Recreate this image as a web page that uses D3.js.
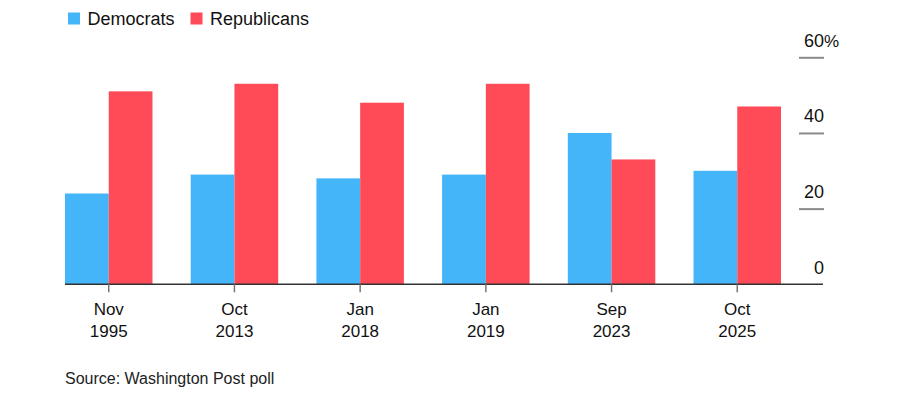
<!DOCTYPE html>
<html>
<head>
<meta charset="utf-8">
<script src="https://cdn.jsdelivr.net/npm/d3@7"></script>
<style>
  body { margin: 0; background: #fff; }
  svg { display: block; font-family: "Liberation Sans", Arial, sans-serif; }
</style>
</head>
<body>
<svg id="chart" width="900" height="403"></svg>
<script>
var months = ["Nov", "Oct", "Jan", "Jan", "Sep", "Oct"];
var years = ["1995", "2013", "2018", "2019", "2023", "2025"];
var democrats = [24, 29, 28, 29, 40, 30];
var republicans = [51, 53, 48, 53, 33, 47];
var series_names = ["Democrats", "Republicans"];
var y_ticks = [0, 20, 40, 60];

var colors = ["#45b5fa", "#ff4b58"];
var svg = d3.select("#chart");

var cats = years.map(function (y, i) { return i; });
var x = d3.scaleBand().domain(cats).range([65, 781]).paddingInner(0.304).paddingOuter(0);
var x_inner = d3.scaleBand().domain([0, 1]).range([0, x.bandwidth()]);
var y = d3.scaleLinear().domain([0, 60]).range([284.3, 57.3]);

// y axis: short lines on the right, labels sitting above them
var y_axis = d3.axisLeft(y).tickValues(y_ticks).tickSize(25).tickFormat(function (d) { return d; });
var gy = svg.append("g")
  .attr("transform", "translate(824,0)")
  .call(y_axis);
gy.select(".domain").remove();
gy.selectAll(".tick line").attr("stroke", "#8a8a8a").attr("stroke-width", 2)
  .filter(function (d) { return d == 0; }).remove();
gy.selectAll(".tick text")
  .attr("x", 0).attr("dy", 0).attr("y", -11)
  .attr("text-anchor", "end")
  .attr("fill", "#111")
  .style("font-size", "18px");
gy.selectAll(".tick").filter(function (d) { return d == 60; })
  .append("text")
  .text("%")
  .attr("x", 0).attr("y", -11)
  .attr("text-anchor", "start")
  .attr("fill", "#111")
  .style("font-size", "17px");

// bars
var values = [democrats, republicans];
for (var s = 0; s < 2; s++) {
  svg.append("g").selectAll("rect")
    .data(values[s])
    .enter()
    .append("rect")
    .attr("x", function (d, i) { return x(i) + x_inner(s); })
    .attr("y", function (d) { return y(d); })
    .attr("width", x_inner.bandwidth())
    .attr("height", function (d) { return y(0) - y(d); })
    .attr("fill", colors[s]);
}

// baseline
svg.append("line")
  .attr("x1", 65).attr("x2", 823)
  .attr("y1", y(0)).attr("y2", y(0))
  .attr("stroke", "#333").attr("stroke-width", 1.5);

// x axis
var x_axis = d3.axisBottom(x).tickSize(8).tickFormat("");
var gx = svg.append("g")
  .attr("transform", "translate(0," + y(0) + ")")
  .call(x_axis);
gx.select(".domain").remove();
gx.selectAll(".tick line").attr("stroke", "#777").attr("stroke-width", 1.5);
gx.selectAll(".tick").each(function (d) {
  var t = d3.select(this).append("text")
    .attr("text-anchor", "middle")
    .attr("fill", "#111")
    .style("font-size", "17px");
  t.append("tspan").attr("x", 0).attr("y", 31).text(months[d]);
  t.append("tspan").attr("x", 0).attr("y", 53).text(years[d]);
});

// legend
var legend_x = [68, 190.5];
series_names.forEach(function (name, i) {
  svg.append("rect")
    .attr("x", legend_x[i]).attr("y", 12.5)
    .attr("width", 12).attr("height", 12)
    .attr("fill", colors[i]);
  svg.append("text")
    .attr("x", legend_x[i] + 19.5).attr("y", 25)
    .attr("fill", "#111")
    .style("font-size", "18px")
    .text(name);
});

// source
svg.append("text")
  .attr("x", 65).attr("y", 384)
  .attr("fill", "#222")
  .style("font-size", "16px")
  .text("Source: Washington Post poll");
</script>
</body>
</html>
